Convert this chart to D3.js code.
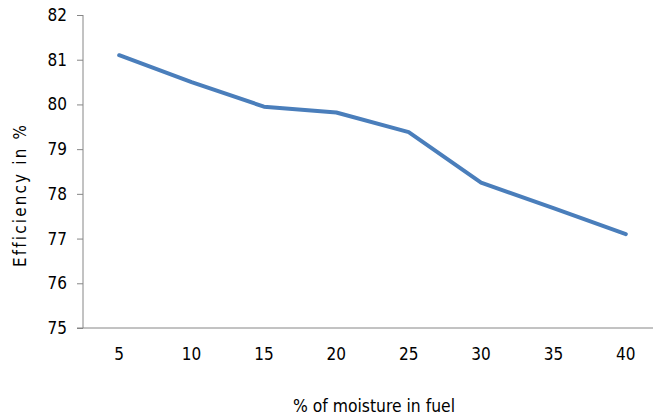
<!DOCTYPE html>
<html><head><meta charset="utf-8">
<script src="https://cdn.jsdelivr.net/npm/d3@7/dist/d3.min.js"></script>
<style>body{margin:0;background:#fff}svg{display:block}text{font-family:"DejaVu Sans Condensed","Liberation Sans Narrow",sans-serif;font-stretch:condensed}</style>
</head><body>
<svg id="c" width="653" height="416"></svg>
<script>
const categories = ["5","10","15","20","25","30","35","40"];
const efficiency = [81.1, 80.5, 79.95, 79.82, 79.38, 78.25, 77.68, 77.1];
const yTicks = [75,76,77,78,79,80,81,82];

const svg = d3.select("#c");
const x = d3.scaleBand().domain(categories).range([83, 662]);
const y = d3.scaleLinear().domain([75, 82]).range([328, 15]);
const axisColor = "#868686";
const font = "17px";

// y axis
const ya = svg.append("g").attr("transform","translate(83,0)")
  .call(d3.axisLeft(y).tickValues(yTicks).tickSize(6).tickPadding(10).tickFormat(d3.format("d")));
ya.attr("font-size",null);
ya.select(".domain").attr("stroke",axisColor).attr("d","M0,15V328");
ya.selectAll(".tick line").attr("stroke",axisColor);
ya.selectAll("text").attr("fill","#000").style("font-size",font);

// x axis
const xa = svg.append("g").attr("transform","translate(0,328)")
  .call(d3.axisBottom(x).tickSize(0).tickPadding(29));
xa.attr("font-size",null);
xa.select(".domain").attr("stroke",axisColor).attr("d","M77,0H662");
xa.selectAll("text").attr("fill","#000").style("font-size",font).attr("dy","0.2em");

// line
const line = d3.line().x((d,i)=>x(categories[i]) + x.bandwidth()/2).y(d=>y(d));
svg.append("path").datum(efficiency).attr("d",line)
  .attr("fill","none").attr("stroke","#4a7ebb").attr("stroke-width",4)
  .attr("stroke-linejoin","round").attr("stroke-linecap","round");

function fit(sel, w){
  sel.style("font-size","16px");
  const l = sel.node().getComputedTextLength();
  sel.style("font-size", (16*w/l).toFixed(2)+"px");
}
// titles
const xt = svg.append("text").attr("x",374).attr("y",412).attr("text-anchor","middle")
  .text("% of moisture in fuel");
fit(xt, 162);
const yt = svg.append("text").attr("transform","translate(26,195) rotate(-90)").attr("text-anchor","middle")
  .style("letter-spacing","2.2px").text("Efficiency in %");
fit(yt, 146);
</script>
</body></html>
